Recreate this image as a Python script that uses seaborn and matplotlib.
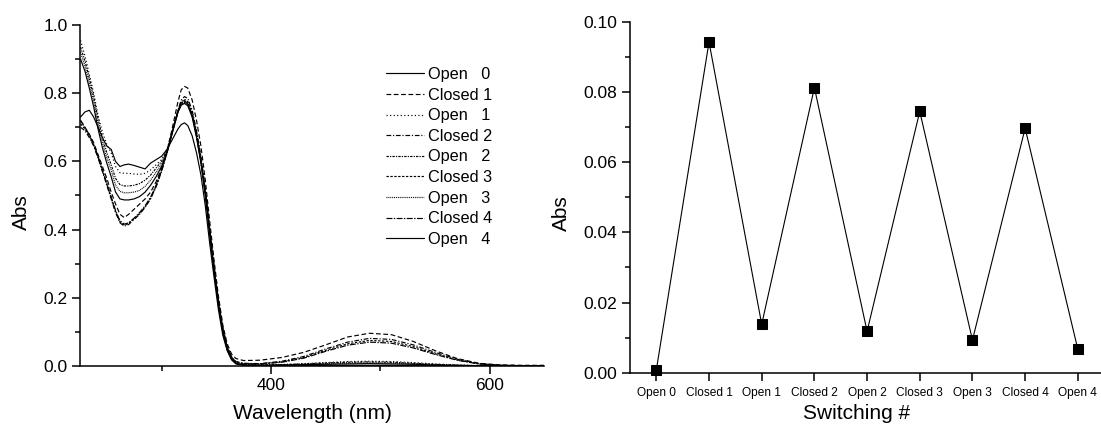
import matplotlib
matplotlib.use("Agg")
import matplotlib.pyplot as plt
from matplotlib.ticker import MultipleLocator, FixedLocator
import seaborn as sns
import pandas as pd

# ---------------- data ----------------
wavelength = [226, 230, 234, 238, 242, 246, 250, 254, 258, 262, 266, 270, 275, 280, 285,
              290, 295, 300, 305, 310, 315, 318, 321, 324, 328, 332, 336, 340, 344, 348,
              352, 356, 360, 364, 368, 375, 390, 410, 430, 450, 470, 490, 510, 530, 550,
              570, 590, 610, 630, 650]

open0 = [0.73, 0.745, 0.75, 0.73, 0.70, 0.67, 0.645, 0.635, 0.60, 0.585, 0.59, 0.592, 0.588, 0.583, 0.578,
         0.595, 0.605, 0.615, 0.635, 0.665, 0.695, 0.708, 0.713, 0.705, 0.675, 0.625, 0.56, 0.47, 0.36, 0.26,
         0.165, 0.09, 0.045, 0.018, 0.006, 0.002, 0.001, 0.001, 0.001, 0.002, 0.002, 0.002, 0.002, 0.001, 0.001,
         0.001, 0.0, 0.0, 0.0, 0.0]
closed1 = [0.72, 0.70, 0.68, 0.655, 0.62, 0.585, 0.55, 0.51, 0.475, 0.445, 0.435, 0.445, 0.46, 0.475, 0.49,
           0.51, 0.54, 0.58, 0.63, 0.70, 0.775, 0.81, 0.82, 0.815, 0.78, 0.72, 0.645, 0.545, 0.425, 0.31,
           0.205, 0.12, 0.065, 0.035, 0.022, 0.016, 0.017, 0.025, 0.04, 0.062, 0.085, 0.096, 0.092, 0.072, 0.045,
           0.022, 0.008, 0.003, 0.002, 0.002]
open1 = [0.955, 0.91, 0.855, 0.80, 0.735, 0.685, 0.65, 0.625, 0.585, 0.567, 0.565, 0.565, 0.563, 0.562, 0.565,
         0.575, 0.59, 0.605, 0.635, 0.69, 0.75, 0.775, 0.782, 0.775, 0.74, 0.68, 0.605, 0.51, 0.395, 0.285,
         0.185, 0.105, 0.052, 0.022, 0.009, 0.004, 0.003, 0.004, 0.007, 0.010, 0.013, 0.014, 0.013, 0.010, 0.006,
         0.003, 0.001, 0.0, 0.0, 0.0]
closed2 = [0.70, 0.69, 0.67, 0.645, 0.61, 0.57, 0.53, 0.49, 0.45, 0.42, 0.41, 0.415, 0.43, 0.445, 0.465,
           0.49, 0.525, 0.57, 0.625, 0.69, 0.75, 0.78, 0.79, 0.785, 0.75, 0.69, 0.615, 0.52, 0.405, 0.295,
           0.195, 0.112, 0.058, 0.027, 0.013, 0.008, 0.007, 0.014, 0.028, 0.05, 0.07, 0.081, 0.078, 0.062, 0.04,
           0.02, 0.007, 0.002, 0.001, 0.001]
open2 = [0.935, 0.895, 0.845, 0.79, 0.725, 0.67, 0.625, 0.59, 0.55, 0.532, 0.528, 0.528, 0.53, 0.535, 0.545,
         0.56, 0.58, 0.60, 0.632, 0.688, 0.748, 0.77, 0.777, 0.77, 0.735, 0.675, 0.60, 0.505, 0.39, 0.28,
         0.182, 0.102, 0.05, 0.021, 0.008, 0.003, 0.003, 0.004, 0.006, 0.009, 0.011, 0.012, 0.011, 0.008, 0.005,
         0.002, 0.001, 0.0, 0.0, 0.0]
closed3 = [0.71, 0.695, 0.675, 0.648, 0.612, 0.573, 0.533, 0.493, 0.453, 0.423, 0.413, 0.418, 0.432, 0.447, 0.467,
           0.492, 0.527, 0.572, 0.625, 0.688, 0.745, 0.772, 0.78, 0.775, 0.742, 0.683, 0.608, 0.515, 0.40, 0.29,
           0.19, 0.11, 0.056, 0.026, 0.012, 0.007, 0.006, 0.012, 0.025, 0.046, 0.065, 0.075, 0.072, 0.057, 0.036,
           0.018, 0.006, 0.002, 0.001, 0.001]
open3 = [0.92, 0.88, 0.83, 0.775, 0.71, 0.655, 0.61, 0.575, 0.53, 0.512, 0.508, 0.508, 0.51, 0.515, 0.527,
         0.545, 0.568, 0.592, 0.628, 0.685, 0.745, 0.767, 0.773, 0.766, 0.732, 0.672, 0.597, 0.502, 0.388, 0.278,
         0.18, 0.10, 0.049, 0.02, 0.008, 0.003, 0.002, 0.003, 0.005, 0.007, 0.008, 0.009, 0.008, 0.006, 0.004,
         0.002, 0.001, 0.0, 0.0, 0.0]
closed4 = [0.72, 0.70, 0.678, 0.65, 0.615, 0.576, 0.536, 0.496, 0.456, 0.426, 0.416, 0.42, 0.434, 0.45, 0.47,
           0.495, 0.53, 0.575, 0.627, 0.688, 0.743, 0.768, 0.775, 0.77, 0.738, 0.68, 0.605, 0.512, 0.398, 0.288,
           0.188, 0.108, 0.055, 0.025, 0.011, 0.006, 0.006, 0.011, 0.023, 0.043, 0.061, 0.070, 0.067, 0.053, 0.034,
           0.017, 0.006, 0.002, 0.001, 0.001]
open4 = [0.90, 0.865, 0.815, 0.76, 0.695, 0.64, 0.595, 0.555, 0.51, 0.49, 0.487, 0.487, 0.49, 0.497, 0.51,
         0.53, 0.555, 0.585, 0.625, 0.685, 0.745, 0.765, 0.77, 0.763, 0.73, 0.67, 0.595, 0.50, 0.386, 0.276,
         0.178, 0.099, 0.048, 0.02, 0.008, 0.003, 0.002, 0.003, 0.004, 0.005, 0.006, 0.007, 0.006, 0.005, 0.003,
         0.002, 0.001, 0.0, 0.0, 0.0]

legend_labels = ["Open   0", "Closed 1", "Open   1", "Closed 2", "Open   2",
                 "Closed 3", "Open   3", "Closed 4", "Open   4"]
spectra = [open0, closed1, open1, closed2, open2, closed3, open3, closed4, open4]

switch_labels = ["Open 0", "Closed 1", "Open 1", "Closed 2", "Open 2",
                 "Closed 3", "Open 3", "Closed 4", "Open 4"]
switch_abs = [0.0008, 0.0943, 0.0138, 0.0813, 0.0118, 0.0745, 0.0093, 0.0697, 0.0067]

# ---------------- style ----------------
sns.set_style("ticks")
plt.rcParams["font.family"] = ["Liberation Sans", "DejaVu Sans"]
plt.rcParams["axes.linewidth"] = 1.1
for key in ("text.color", "axes.labelcolor", "xtick.color", "ytick.color", "axes.edgecolor"):
    plt.rcParams[key] = "black"

line_styles = ["-", (0, (4, 2.2)), (0, (1, 2)), (0, (4, 1.5, 1, 1.5)), (0, (2, 1, 1, 1)),
               (0, (2, 1.3)), (0, (0.8, 0.8)), (0, (5, 1.2, 1.2, 1.2)), "-"]

W, H = 1101, 430
fig = plt.figure(figsize=(W / 100, H / 100), dpi=100)
ax1 = fig.add_axes([80 / W, (H - 366) / H, 464 / W, 341 / H])
ax2 = fig.add_axes([630 / W, (H - 372.7) / H, (W - 630) / W, 350.7 / H])

# ---------------- left: spectra ----------------
rows = []
for lab, vals in zip(legend_labels, spectra):
    for w, v in zip(wavelength, vals):
        rows.append({"Wavelength": w, "Abs": v, "state": lab})
df = pd.DataFrame(rows)

for lab, ls in zip(legend_labels, line_styles):
    sub = df[df["state"] == lab]
    sns.lineplot(data=sub, x="Wavelength", y="Abs", ax=ax1, color="black",
                 linewidth=0.85, linestyle=ls, label=lab, estimator=None)

ax1.set_xlim(225.5, 649.5)
ax1.set_ylim(0, 1.0)
ax1.xaxis.set_major_locator(FixedLocator([400, 600]))
ax1.xaxis.set_minor_locator(FixedLocator([300, 500]))
ax1.yaxis.set_major_locator(MultipleLocator(0.2))
ax1.yaxis.set_minor_locator(MultipleLocator(0.1))
ax1.set_xlabel("Wavelength (nm)", fontsize=15)
ax1.set_ylabel("Abs", fontsize=15)
ax1.xaxis.set_label_coords(0.5, -0.112)
ax1.yaxis.set_label_coords(-0.106, 0.452)
leg = ax1.legend(loc="upper left", bbox_to_anchor=(386 / W, (H - 67) / H),
                 bbox_transform=fig.transFigure, frameon=False, fontsize=11.7,
                 handlelength=2.35, handletextpad=0.25, labelspacing=0.345,
                 borderpad=0, borderaxespad=0)

# ---------------- right: switching ----------------
pos = list(range(len(switch_labels)))
sw = pd.DataFrame({"pos": pos, "Abs": switch_abs})
sns.lineplot(data=sw, x="pos", y="Abs", ax=ax2, color="black", linewidth=0.8,
             marker="s", markersize=6.5, markeredgecolor="black",
             markerfacecolor="black", clip_on=False, zorder=5)
ax2.set_xlim(-0.5, 8.44)
ax2.set_ylim(0, 0.10)
ax2.set_xticks(pos)
ax2.set_xticklabels(switch_labels, fontsize=8.6)
ax2.yaxis.set_major_locator(MultipleLocator(0.02))
ax2.yaxis.set_minor_locator(MultipleLocator(0.01))
ax2.set_xlabel("Switching #", fontsize=15)
ax2.set_ylabel("Abs", fontsize=15)
ax2.xaxis.set_label_coords(0.48, -0.088)
ax2.yaxis.set_label_coords(-0.125, 0.455)

for ax in (ax1, ax2):
    sns.despine(ax=ax)
    ax.tick_params(axis="both", which="major", direction="out", length=6, width=1.1,
                   color="black", labelcolor="black", pad=3)
    ax.tick_params(axis="both", which="minor", direction="out", length=3.5, width=1.1,
                   color="black")
    ax.tick_params(axis="y", labelsize=12.5)
    for s in ax.spines.values():
        s.set_color("black")
ax1.tick_params(axis="x", labelsize=12.5)
ax2.tick_params(axis="x", labelsize=8.6, pad=4)

fig.savefig("out.png", dpi=100, facecolor="white")
